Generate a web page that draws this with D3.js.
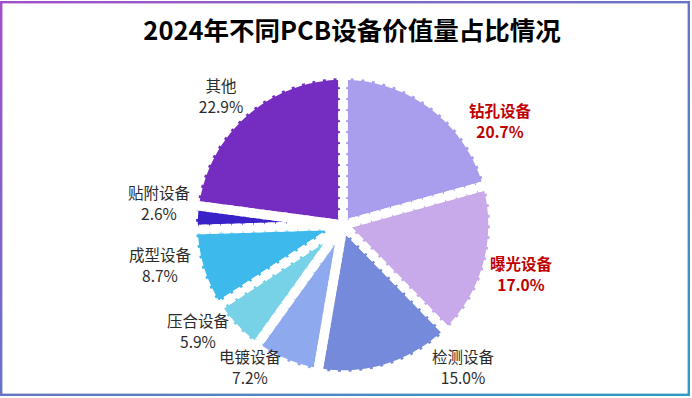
<!DOCTYPE html>
<html><head><meta charset="utf-8">
<script src="https://cdn.jsdelivr.net/npm/d3@7"></script>
<style>html,body{margin:0;padding:0;background:#fff;}svg{display:block;}</style>
</head><body>
<svg id="c" width="692" height="398"></svg>
<script>
const categories = ["钻孔设备","曝光设备","检测设备","电镀设备","压合设备","成型设备","贴附设备","其他"];
const values = [20.7, 17.0, 15.0, 7.2, 5.9, 8.7, 2.6, 22.9];
const colors = ["#A99DEE","#C8A9E9","#758ADA","#8FA9EE","#77D2E8","#3DB9EB","#3A22C9","#742DC0"];
const highlight = ["钻孔设备","曝光设备"];
// label block centres (layout only)
const labelPos = [[500,122],[521,275],[463,368],[250,368],[198,332],[160,266],[159,204],[221,97]];

const svg = d3.select("#c");
const defs = svg.append("defs");
const g = defs.append("linearGradient").attr("id","bd").attr("x1","0").attr("y1","0").attr("x2","1").attr("y2","1");
g.append("stop").attr("offset","0%").attr("stop-color","#A24DC9");
g.append("stop").attr("offset","100%").attr("stop-color","#2E9CC4");
svg.append("rect").attr("x",1.2).attr("y",2.2).attr("width",687.6).attr("height",392.6)
  .attr("fill","#fff").attr("stroke","url(#bd)").attr("stroke-width",2.4);

svg.append("text").attr("x",352).attr("y",40).attr("text-anchor","middle")
  .attr("font-family","'Noto Sans CJK SC', sans-serif").attr("font-weight","bold")
  .attr("font-size",25.5).attr("fill","#000").text("2024年不同PCB设备价值量占比情况");

const cx = 343, cy = 225;
const data = categories.map((c,i)=>({name:c, value:values[i], color:colors[i]}));
const pie = d3.pie().sort(null).value(d=>d.value);
const arc = d3.arc().innerRadius(0).outerRadius(150);
const arcs = pie(data);
const pg = svg.append("g").attr("transform",`translate(${cx},${cy})`);
pg.selectAll("path.f").data(arcs).enter().append("path").attr("class","f")
  .attr("d",arc).attr("fill",d=>d.data.color);
pg.selectAll("path.s").data(arcs).enter().append("path").attr("class","s")
  .attr("d",arc).attr("fill","none").attr("stroke","#fff").attr("stroke-width",6).attr("stroke-linejoin","round");
pg.selectAll("path.d").data(arcs).enter().append("path").attr("class","d")
  .attr("d",arc).attr("fill","none").attr("stroke","#fff").attr("stroke-width",9.5).attr("stroke-dasharray","8,3");

const lg = svg.append("g").attr("font-family","'Noto Sans CJK SC', sans-serif").attr("font-size",15.5);
data.forEach((d,i)=>{
  const hl = highlight.includes(d.name);
  const t = lg.append("text").attr("text-anchor","middle")
    .attr("fill", hl ? "#C00000" : "#2b2b2b")
    .attr("font-weight", hl ? "bold" : "normal");
  const [x,y] = labelPos[i];
  t.append("tspan").attr("x",x).attr("y",y-5).text(d.name);
  t.append("tspan").attr("x",x).attr("y",y+15.5).text(d.value.toFixed(1)+"%");
});
</script>
</body></html>
